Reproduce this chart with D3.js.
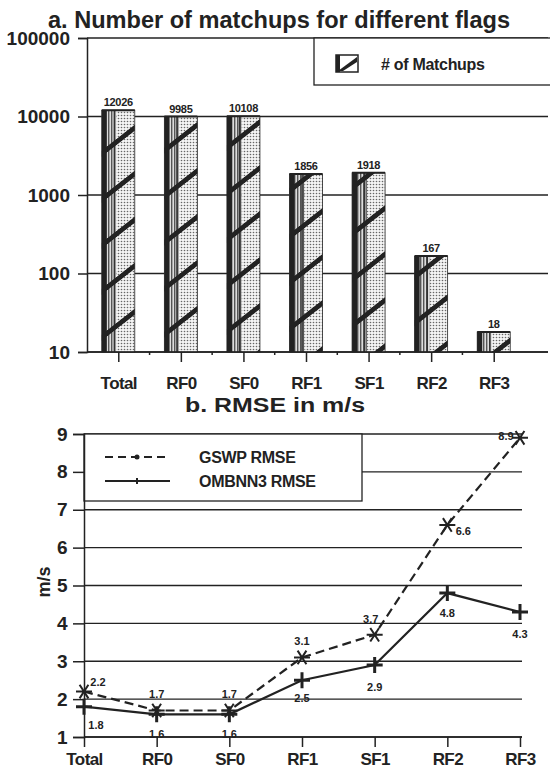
<!DOCTYPE html>
<html><head><meta charset="utf-8">
<script src="https://cdn.jsdelivr.net/npm/d3@7"></script>
<style>
body{margin:0;background:#fff;}
svg{display:block;font-family:"Liberation Sans",Arial,sans-serif;font-weight:bold;}
</style></head>
<body><svg id="c" width="550" height="771"></svg>
<script>
// ---------- data ----------
const categories = ["Total","RF0","SF0","RF1","SF1","RF2","RF3"];
const matchups = [12026, 9985, 10108, 1856, 1918, 167, 18];
const logTicks = [10, 100, 1000, 10000, 100000];
const gswpRMSE = [2.2, 1.7, 1.7, 3.1, 3.7, 6.6, 8.9];
const ombRMSE = [1.8, 1.6, 1.6, 2.5, 2.9, 4.8, 4.3];
const rmseTicks = [1,2,3,4,5,6,7,8,9];
const titleA = "a. Number of matchups for different flags";
const titleB = "b. RMSE in m/s";
const legendA = "# of Matchups";
const seriesNames = ["GSWP RMSE", "OMBNN3 RMSE"];

// label offsets (layout only)
const gswpOff = [[14,-10],[0,-16],[0,-16],[0,-16],[-4,-16],[16,6],[-14,-2]];
const ombOff = [[12,18],[0,20],[0,20],[0,18],[0,22],[0,20],[0,22]];

const ink = "#222";
const svg = d3.select("#c");
const defs = svg.append("defs");

// patterns
const vs = defs.append("pattern").attr("id","vstripes").attr("patternUnits","userSpaceOnUse").attr("width",3).attr("height",4);
vs.append("rect").attr("width",3).attr("height",4).attr("fill","#ddd");
vs.append("rect").attr("width",1.4).attr("height",4).attr("fill","#555");
const dt = defs.append("pattern").attr("id","dots").attr("patternUnits","userSpaceOnUse").attr("width",3).attr("height",3);
dt.append("rect").attr("width",3).attr("height",3).attr("fill","#f4f4f4");
dt.append("circle").attr("cx",1.5).attr("cy",1.5).attr("r",0.8).attr("fill","#666");
const dg = defs.append("pattern").attr("id","diag").attr("patternUnits","userSpaceOnUse").attr("width",12).attr("height",46)
  .attr("patternTransform","skewY(-38)");
dg.append("rect").attr("y",0).attr("width",12).attr("height",6).attr("fill",ink);

// ---------- chart a ----------
const xA = d3.scalePoint().domain(categories).range([87, 525]).padding(0.5);
const yA = d3.scaleLog().domain([10, 100000]).range([352, 38]);
const barW = 33;

svg.append("text").attr("x",279).attr("y",28).attr("text-anchor","middle")
  .attr("font-size",23).attr("textLength",462).attr("lengthAdjust","spacingAndGlyphs")
  .attr("fill",ink).text(titleA);

const gA = svg.append("g");
gA.selectAll("line.grid").data(logTicks).join("line").attr("class","grid")
  .attr("x1",87).attr("x2",548).attr("y1",d=>yA(d)).attr("y2",d=>yA(d))
  .attr("stroke",ink).attr("stroke-width",1.3);

// legend a
gA.append("rect").attr("x",314).attr("y",38).attr("width",250).attr("height",47)
  .attr("fill","#fff").attr("stroke",ink).attr("stroke-width",1.3);
const lgx=336, lgy=55, lgw=22, lgh=17;
gA.append("rect").attr("x",lgx).attr("y",lgy).attr("width",lgw).attr("height",lgh).attr("fill","#fff").attr("stroke",ink).attr("stroke-width",1.5);
gA.append("path").attr("d",`M${lgx+2},${lgy+lgh-1} L${lgx+lgw-1},${lgy+2} L${lgx+lgw-1},${lgy+7} L${lgx+7},${lgy+lgh-1}Z`).attr("fill",ink);
gA.append("rect").attr("x",lgx).attr("y",lgy).attr("width",4).attr("height",lgh).attr("fill",ink);
gA.append("text").attr("x",381).attr("y",70).attr("font-size",16).attr("fill",ink).attr("letter-spacing",-0.3).text(legendA);

// bars
const bars = gA.selectAll("g.bar").data(matchups).join("g").attr("class","bar");
bars.each(function(v,i){
  const g = d3.select(this);
  const x0 = xA(categories[i]) - barW/2, y0 = yA(v), h = yA(10) - y0;
  const lw = barW*0.45;
  g.append("rect").attr("x",x0).attr("y",y0).attr("width",lw).attr("height",h).attr("fill","url(#vstripes)");
  g.append("rect").attr("x",x0+lw).attr("y",y0).attr("width",barW-lw).attr("height",h).attr("fill","url(#dots)");
  g.append("rect").attr("x",x0).attr("y",y0).attr("width",5).attr("height",h).attr("fill",ink);
  g.append("rect").attr("x",x0+lw-3).attr("y",y0).attr("width",1.5).attr("height",h).attr("fill","#333");
  g.append("rect").attr("x",x0).attr("y",y0).attr("width",barW).attr("height",h).attr("fill","url(#diag)");
  g.append("rect").attr("x",x0).attr("y",y0).attr("width",barW).attr("height",h).attr("fill","none").attr("stroke",ink).attr("stroke-width",0.8);
  g.append("line").attr("x1",x0).attr("x2",x0+barW).attr("y1",y0).attr("y2",y0).attr("stroke",ink).attr("stroke-width",2);
  g.append("text").attr("x",xA(categories[i])).attr("y",y0-4).attr("text-anchor","middle")
    .attr("font-size",11).attr("fill",ink).attr("letter-spacing",-0.3).text(v);
});

// axes a
const axAy = svg.append("g").attr("transform","translate(87,0)")
  .call(d3.axisLeft(yA).tickValues(logTicks).tickFormat(d3.format("d")).tickSize(9).tickPadding(8));
const axAx = svg.append("g").attr("transform","translate(0,352)")
  .call(d3.axisBottom(xA).tickSize(10).tickPadding(15));
[axAy, axAx].forEach(a=>{
  a.select(".domain").attr("stroke",ink).attr("stroke-width",1.5);
  a.selectAll(".tick line").attr("stroke",ink).attr("stroke-width",1.5);
  a.selectAll("text").attr("fill",ink).attr("font-family","Liberation Sans, Arial, sans-serif").attr("font-weight","bold").attr("letter-spacing",-0.6);
});
axAy.selectAll("text").attr("font-size",19).attr("letter-spacing",0);
axAx.selectAll("text").attr("font-size",17);
axAx.select(".domain").attr("d","M87,0H548");
// minor ticks between categories
svg.append("g").selectAll("line").data(categories.slice(1)).join("line")
  .attr("x1",d=>xA(d)-xA.step()/2).attr("x2",d=>xA(d)-xA.step()/2)
  .attr("y1",352).attr("y2",355).attr("stroke",ink).attr("stroke-width",1.5);

// ---------- chart b ----------
const xB = d3.scalePoint().domain(categories).range([84, 520]);
const yB = d3.scaleLinear().domain([1, 9]).range([737, 434]);

svg.append("text").attr("x",275).attr("y",412).attr("text-anchor","middle")
  .attr("font-size",20).attr("textLength",180).attr("lengthAdjust","spacingAndGlyphs")
  .attr("fill",ink).attr("xml:space","preserve").text(titleB);

const gB = svg.append("g");
gB.selectAll("line.grid").data(rmseTicks).join("line").attr("class","grid")
  .attr("x1",84).attr("x2",522).attr("y1",d=>yB(d)).attr("y2",d=>yB(d))
  .attr("stroke",ink).attr("stroke-width",1.3);

const axBy = svg.append("g").attr("transform","translate(84,0)")
  .call(d3.axisLeft(yB).tickValues(rmseTicks).tickFormat(d3.format("d")).tickSize(11).tickPadding(6));
const axBx = svg.append("g").attr("transform","translate(0,737)")
  .call(d3.axisBottom(xB).tickSize(10).tickPadding(6));
[axBy, axBx].forEach(a=>{
  a.select(".domain").attr("stroke",ink).attr("stroke-width",1.5);
  a.selectAll(".tick line").attr("stroke",ink).attr("stroke-width",1.5);
  a.selectAll("text").attr("fill",ink).attr("font-family","Liberation Sans, Arial, sans-serif").attr("font-weight","bold").attr("letter-spacing",-0.6);
});
axBy.selectAll("text").attr("font-size",19);
axBx.selectAll("text").attr("font-size",17);
axBx.select(".domain").attr("d","M84,0H522");

svg.append("text").attr("transform","translate(50,582) rotate(-90)").attr("text-anchor","middle")
  .attr("font-size",18).attr("fill",ink).text("m/s");

// legend b
gB.append("rect").attr("x",84).attr("y",434).attr("width",278).attr("height",67)
  .attr("fill","#fff").attr("stroke",ink).attr("stroke-width",1.3);
gB.append("line").attr("x1",105).attr("x2",170).attr("y1",457).attr("y2",457).attr("stroke",ink).attr("stroke-width",2).attr("stroke-dasharray","8,5");
gB.append("circle").attr("cx",137).attr("cy",457).attr("r",2.5).attr("fill",ink);
gB.append("line").attr("x1",105).attr("x2",170).attr("y1",481).attr("y2",481).attr("stroke",ink).attr("stroke-width",2);
gB.append("line").attr("x1",137).attr("x2",137).attr("y1",478).attr("y2",484).attr("stroke",ink).attr("stroke-width",2);
gB.append("text").attr("x",199).attr("y",463).attr("font-size",16).attr("fill",ink).attr("letter-spacing",-0.3).text(seriesNames[0]);
gB.append("text").attr("x",199).attr("y",487).attr("font-size",16).attr("fill",ink).attr("letter-spacing",-0.3).text(seriesNames[1]);

const line = d3.line().x((d,i)=>xB(categories[i])).y(d=>yB(d));
gB.append("path").datum(gswpRMSE).attr("d",line).attr("fill","none").attr("stroke",ink).attr("stroke-width",2.2).attr("stroke-dasharray","9,5");
gB.append("path").datum(ombRMSE).attr("d",line).attr("fill","none").attr("stroke",ink).attr("stroke-width",2.2);

// asterisk markers
const s = 8;
gB.selectAll("path.star").data(gswpRMSE).join("path").attr("class","star")
  .attr("transform",(d,i)=>`translate(${xB(categories[i])},${yB(d)})`)
  .attr("d",`M${-s},0H${s}M${-s*0.55},${-s*0.85}L${s*0.55},${s*0.85}M${s*0.55},${-s*0.85}L${-s*0.55},${s*0.85}`)
  .attr("stroke",ink).attr("stroke-width",2).attr("fill","none");
const p = 8;
gB.selectAll("path.plus").data(ombRMSE).join("path").attr("class","plus")
  .attr("transform",(d,i)=>`translate(${xB(categories[i])},${yB(d)})`)
  .attr("d",`M${-p},0H${p}M0,${-p}V${p}`)
  .attr("stroke",ink).attr("stroke-width",3).attr("fill","none");

gB.selectAll("text.lg").data(gswpRMSE).join("text").attr("class","lg")
  .attr("x",(d,i)=>xB(categories[i])+gswpOff[i][0]).attr("y",(d,i)=>yB(d)+gswpOff[i][1]+4)
  .attr("text-anchor","middle").attr("font-size",11).attr("fill",ink).text(d=>d.toFixed(1));
gB.selectAll("text.lo").data(ombRMSE).join("text").attr("class","lo")
  .attr("x",(d,i)=>xB(categories[i])+ombOff[i][0]).attr("y",(d,i)=>yB(d)+ombOff[i][1]+4)
  .attr("text-anchor","middle").attr("font-size",11).attr("fill",ink).text(d=>d.toFixed(1));
</script></body></html>
